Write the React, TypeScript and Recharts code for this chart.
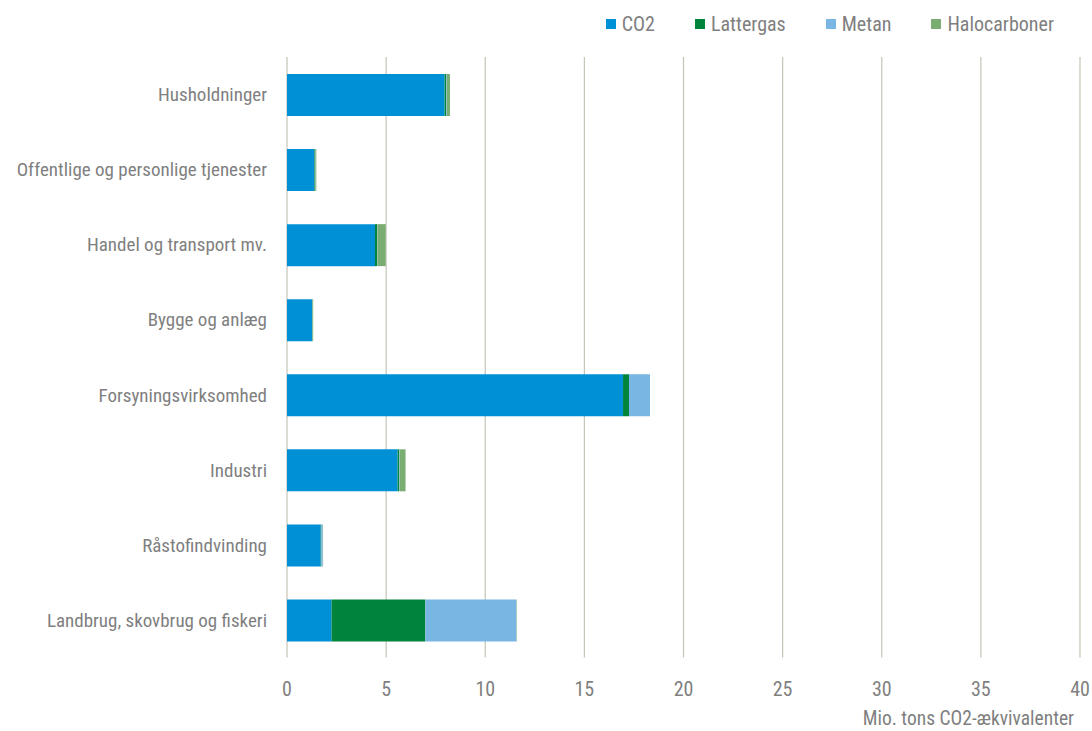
import { BarChart, Bar, XAxis, YAxis, CartesianGrid, Label } from 'recharts';

const categories = [
  'Husholdninger',
  'Offentlige og personlige tjenester',
  'Handel og transport mv.',
  'Bygge og anlæg',
  'Forsyningsvirksomhed',
  'Industri',
  'Råstofindvinding',
  'Landbrug, skovbrug og fiskeri',
];
const co2 = [7.95, 1.38, 4.44, 1.26, 16.95, 5.58, 1.7, 2.25];
const lattergas = [0.08, 0.03, 0.1, 0.02, 0.3, 0.07, 0.02, 4.73];
const metan = [0.03, 0.02, 0.02, 0.01, 1.06, 0.03, 0.08, 4.59];
const halocarboner = [0.16, 0.05, 0.42, 0.03, 0.0, 0.3, 0.02, 0.02];
const xTicks = [0, 5, 10, 15, 20, 25, 30, 35, 40];

const series = [
  { key: 'co2', name: 'CO2', color: '#0090d5' },
  { key: 'lattergas', name: 'Lattergas', color: '#00843c' },
  { key: 'metan', name: 'Metan', color: '#79b6e3' },
  { key: 'halocarboner', name: 'Halocarboner', color: '#7aad72' },
];

const data = categories.map((c, i) => ({
  name: c,
  co2: co2[i],
  lattergas: lattergas[i],
  metan: metan[i],
  halocarboner: halocarboner[i],
}));

const FONT = '"Liberation Sans Narrow", "Arial Narrow", "Roboto Condensed", sans-serif';
const TEXT = '#7f7f7f';

// legend sits above the plot, outside the chart so it takes no room
const LegendRow = () => (
  <div
    style={{
      position: 'absolute', top: 11, right: 38, display: 'flex',
      fontFamily: FONT, fontSize: 20, color: TEXT, lineHeight: '26px',
    }}
  >
    {series.map((s) => (
      <div key={s.key} style={{ display: 'flex', alignItems: 'center', marginLeft: 40 }}>
        <span style={{ width: 10, height: 10, background: s.color, marginRight: 6, display: 'inline-block' }} />
        {s.name}
      </div>
    ))}
  </div>
);

export default function App() {
  return (
    <div style={{ position: 'absolute', left: 0, top: 0, width: 1092, height: 731, background: '#fff' }}>
      <BarChart
        width={1092}
        height={731}
        data={data}
        layout="vertical"
        margin={{ top: 57, right: 12, bottom: 0, left: 0 }}
        barSize={42}
      >
        <CartesianGrid horizontal={false} stroke="#c4c4b6" strokeWidth={1.2} />
        <XAxis
          type="number"
          domain={[0, 40]}
          ticks={xTicks}
          axisLine={false}
          tickLine={false}
          tickMargin={18}
          height={73.5}
          tick={{ fill: TEXT, fontSize: 20, fontFamily: FONT }}
        >
          <Label
            value="Mio. tons CO2-ækvivalenter"
            position="insideBottomRight"
            offset={6}
            style={{ fill: TEXT, fontSize: 19.5, fontFamily: FONT }}
          />
        </XAxis>
        <YAxis
          type="category"
          dataKey="name"
          width={287}
          axisLine={false}
          tickLine={false}
          tickMargin={14}
          tick={{ fill: TEXT, fontSize: 19, fontFamily: FONT }}
        />
        {series.map((s) => (
          <Bar key={s.key} dataKey={s.key} name={s.name} stackId="a" fill={s.color} isAnimationActive={false} />
        ))}
      </BarChart>
      <LegendRow />
    </div>
  );
}
